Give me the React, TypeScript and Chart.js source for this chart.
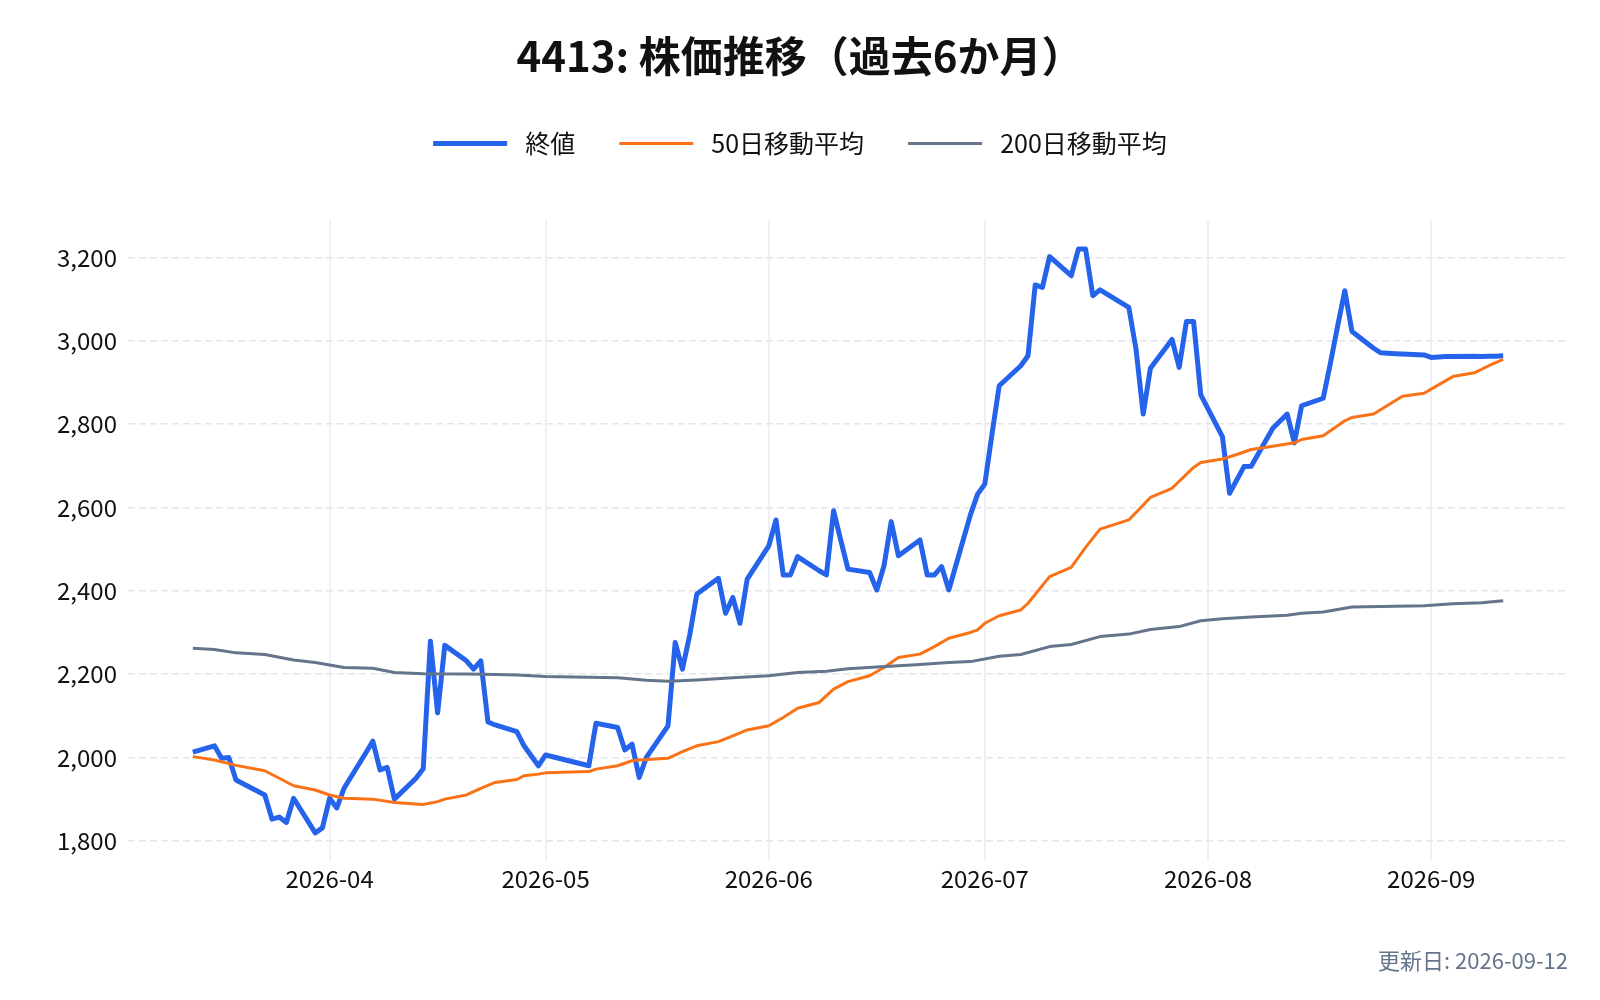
import { useEffect, useRef } from "react"
import Chart from "chart.js/auto"

const chartTitle = "4413: 株価推移（過去6か月）"
const updatedLabel = "更新日: 2026-09-12"
const seriesNames = ["終値", "50日移動平均", "200日移動平均"]

// closing price, one entry per trading day
const closeDates = [
  "2026-03-13", "2026-03-16", "2026-03-17", "2026-03-18", "2026-03-19", "2026-03-23",
  "2026-03-24", "2026-03-25", "2026-03-26", "2026-03-27", "2026-03-30", "2026-03-31",
  "2026-04-01", "2026-04-02", "2026-04-03", "2026-04-06", "2026-04-07", "2026-04-08",
  "2026-04-09", "2026-04-10", "2026-04-13", "2026-04-14", "2026-04-15", "2026-04-16",
  "2026-04-17", "2026-04-20", "2026-04-21", "2026-04-22", "2026-04-23", "2026-04-24",
  "2026-04-27", "2026-04-28", "2026-04-30", "2026-05-01", "2026-05-07", "2026-05-08",
  "2026-05-11", "2026-05-12", "2026-05-13", "2026-05-14", "2026-05-15", "2026-05-18",
  "2026-05-19", "2026-05-20", "2026-05-21", "2026-05-22", "2026-05-25", "2026-05-26",
  "2026-05-27", "2026-05-28", "2026-05-29", "2026-06-01", "2026-06-02", "2026-06-03",
  "2026-06-04", "2026-06-05", "2026-06-08", "2026-06-09", "2026-06-10", "2026-06-11",
  "2026-06-12", "2026-06-15", "2026-06-16", "2026-06-17", "2026-06-18", "2026-06-19",
  "2026-06-22", "2026-06-23", "2026-06-24", "2026-06-25", "2026-06-26", "2026-06-29",
  "2026-06-30", "2026-07-01", "2026-07-02", "2026-07-03", "2026-07-06", "2026-07-07",
  "2026-07-08", "2026-07-09", "2026-07-10", "2026-07-13", "2026-07-14", "2026-07-15",
  "2026-07-16", "2026-07-17", "2026-07-21", "2026-07-22", "2026-07-23", "2026-07-24",
  "2026-07-27", "2026-07-28", "2026-07-29", "2026-07-30", "2026-07-31", "2026-08-03",
  "2026-08-04", "2026-08-05", "2026-08-06", "2026-08-07", "2026-08-10", "2026-08-12",
  "2026-08-13", "2026-08-14", "2026-08-17", "2026-08-18", "2026-08-19", "2026-08-20",
  "2026-08-21", "2026-08-24", "2026-08-25", "2026-08-26", "2026-08-27", "2026-08-28",
  "2026-08-31", "2026-09-01", "2026-09-02", "2026-09-03", "2026-09-04", "2026-09-07",
  "2026-09-08", "2026-09-09", "2026-09-10", "2026-09-11",
]
const closeValues = [
  2013, 2028, 1998, 2000, 1946, 1910,
  1852, 1857, 1844, 1902, 1819, 1831,
  1902, 1879, 1926, 2010, 2039, 1970,
  1976, 1900, 1950, 1973, 2279, 2107,
  2269, 2232, 2212, 2232, 2085, 2078,
  2062, 2028, 1980, 2006, 1980, 2082,
  2072, 2018, 2032, 1952, 2000, 2076,
  2276, 2212, 2292, 2392, 2430, 2346,
  2384, 2322, 2428, 2508, 2570, 2438,
  2438, 2482, 2448, 2438, 2592, 2521,
  2452, 2444, 2402, 2460, 2566, 2484,
  2522, 2438, 2438, 2458, 2402, 2582,
  2632, 2656, 2776, 2892, 2940, 2964,
  3134, 3128, 3202, 3156, 3220, 3220,
  3108, 3122, 3080, 2980, 2824, 2934,
  3003, 2936, 3046, 3046, 2870, 2770,
  2634, 2666, 2698, 2699, 2790, 2824,
  2755, 2844, 2862, 2946, 3035, 3120,
  3022, 2982, 2971, 2970, 2969, 2968,
  2966, 2960, 2961, 2962, 2962, 2963,
  2962, 2963, 2963, 2964,
]

const ma50Dates = [
  "2026-03-13", "2026-03-16", "2026-03-19", "2026-03-23", "2026-03-27", "2026-03-30",
  "2026-04-01", "2026-04-03", "2026-04-07", "2026-04-10", "2026-04-14", "2026-04-16",
  "2026-04-17", "2026-04-20", "2026-04-22", "2026-04-24", "2026-04-27", "2026-04-28",
  "2026-04-30", "2026-05-01", "2026-05-07", "2026-05-08", "2026-05-11", "2026-05-13",
  "2026-05-14", "2026-05-18", "2026-05-20", "2026-05-22", "2026-05-25", "2026-05-27",
  "2026-05-29", "2026-06-01", "2026-06-03", "2026-06-05", "2026-06-08", "2026-06-10",
  "2026-06-12", "2026-06-15", "2026-06-17", "2026-06-19", "2026-06-22", "2026-06-24",
  "2026-06-26", "2026-06-29", "2026-06-30", "2026-07-01", "2026-07-03", "2026-07-06",
  "2026-07-07", "2026-07-10", "2026-07-13", "2026-07-15", "2026-07-17", "2026-07-21",
  "2026-07-24", "2026-07-27", "2026-07-30", "2026-07-31", "2026-08-03", "2026-08-05",
  "2026-08-07", "2026-08-10", "2026-08-13", "2026-08-14", "2026-08-17", "2026-08-20",
  "2026-08-21", "2026-08-24", "2026-08-28", "2026-08-31", "2026-09-04", "2026-09-07",
  "2026-09-09", "2026-09-11",
]
const ma50Values = [
  2002, 1994, 1981, 1968, 1932, 1922,
  1910, 1902, 1900, 1892, 1887, 1894,
  1900, 1910, 1926, 1940, 1947, 1956,
  1960, 1963, 1966, 1972, 1980, 1992,
  1994, 1998, 2014, 2028, 2038, 2052,
  2066, 2076, 2096, 2118, 2132, 2164,
  2182, 2196, 2216, 2240, 2248, 2266,
  2286, 2300, 2306, 2322, 2340, 2354,
  2370, 2434, 2456, 2504, 2548, 2570,
  2624, 2646, 2696, 2708, 2716, 2727,
  2739, 2747, 2755, 2763, 2772, 2808,
  2816, 2824, 2867, 2874, 2914, 2923,
  2940, 2955,
]

const ma200Dates = [
  "2026-03-13", "2026-03-16", "2026-03-19", "2026-03-23", "2026-03-27", "2026-03-30",
  "2026-04-03", "2026-04-07", "2026-04-10", "2026-04-14", "2026-04-20", "2026-04-24",
  "2026-04-27", "2026-05-01", "2026-05-11", "2026-05-15", "2026-05-18", "2026-05-22",
  "2026-05-27", "2026-06-01", "2026-06-05", "2026-06-09", "2026-06-12", "2026-06-16",
  "2026-06-22", "2026-06-26", "2026-06-29", "2026-07-03", "2026-07-06", "2026-07-10",
  "2026-07-13", "2026-07-17", "2026-07-21", "2026-07-24", "2026-07-28", "2026-07-31",
  "2026-08-03", "2026-08-07", "2026-08-12", "2026-08-14", "2026-08-17", "2026-08-21",
  "2026-08-25", "2026-08-31", "2026-09-04", "2026-09-08", "2026-09-11",
]
const ma200Values = [
  2262, 2259, 2251, 2247, 2234, 2228,
  2216, 2214, 2204, 2201, 2200, 2199,
  2198, 2194, 2191, 2185, 2183, 2186,
  2191, 2196, 2204, 2207, 2213, 2217,
  2223, 2228, 2230, 2243, 2247, 2266,
  2271, 2290, 2296, 2307, 2314, 2328,
  2333, 2337, 2341, 2346, 2349, 2361,
  2362, 2364, 2369, 2371, 2376,
]

const monthTicks = ["2026-04-01", "2026-05-01", "2026-06-01", "2026-07-01", "2026-08-01", "2026-09-01"]
const yTicks = [1800, 2000, 2200, 2400, 2600, 2800, 3000, 3200]

const fontFamily = "'Noto Sans CJK JP', 'Noto Sans', sans-serif"
const DAY = 86400000

const toDay = (s: string) => Date.parse(s + "T00:00:00Z") / DAY
const toPoints = (dates: string[], values: number[]) =>
  dates.map((d, i) => ({ x: toDay(d), y: values[i] }))

// extra room between the legend and the plot
const legendGap = {
  id: "legendGap",
  beforeInit(chart: any) {
    const fit = chart.legend.fit
    chart.legend.fit = function () {
      fit.bind(chart.legend)()
      this.height += 54
    }
  },
}

function StockChart() {
  const chartRef = useRef<HTMLCanvasElement | null>(null)
  const chartInstance = useRef<Chart | null>(null)

  useEffect(() => {
    if (!chartRef.current) return
    if (chartInstance.current) chartInstance.current.destroy()

    const first = toDay(closeDates[0])
    const last = toDay(closeDates[closeDates.length - 1])

    chartInstance.current = new Chart(chartRef.current, {
      type: "line",
      data: {
        datasets: [
          {
            label: seriesNames[0],
            data: toPoints(closeDates, closeValues),
            borderColor: "#2563EB",
            borderWidth: 5,
            order: 2,
          },
          {
            label: seriesNames[1],
            data: toPoints(ma50Dates, ma50Values),
            borderColor: "#F97316",
            borderWidth: 3,
            order: 1,
          },
          {
            label: seriesNames[2],
            data: toPoints(ma200Dates, ma200Values),
            borderColor: "#64748B",
            borderWidth: 3,
            order: 0,
          },
        ],
      },
      options: {
        responsive: true,
        maintainAspectRatio: false,
        animation: false,
        datasets: {
          line: {
            pointRadius: 0,
            pointHoverRadius: 0,
            tension: 0,
            fill: false,
            borderJoinStyle: "round",
            backgroundColor: "transparent",
          },
        },
        layout: { padding: { top: 0, left: 32, right: 32, bottom: 26 } },
        plugins: {
          title: {
            display: true,
            text: chartTitle,
            color: "#111111",
            font: { family: fontFamily, size: 42, weight: "bold" },
            padding: { top: 31, bottom: 5.5 },
          },
          subtitle: {
            display: true,
            text: updatedLabel,
            position: "bottom",
            align: "end",
            color: "#64748B",
            font: { family: fontFamily, size: 22 },
            padding: { top: 50, bottom: 0 },
          },
          legend: {
            position: "top",
            labels: {
              color: "#111111",
              font: { family: fontFamily, size: 25 },
              usePointStyle: true,
              pointStyle: "line",
              pointStyleWidth: 74,
              padding: 44,
              sort: (a: any, b: any) => a.datasetIndex - b.datasetIndex,
              generateLabels: (chart: any) =>
                Chart.defaults.plugins.legend.labels
                  .generateLabels(chart)
                  .map((item: any) => ({ ...item, text: " " + item.text })),
            },
          },
          tooltip: { enabled: false },
        },
        scales: {
          x: {
            type: "linear",
            min: first - 9,
            max: last + 9,
            afterBuildTicks: (axis: any) => {
              axis.ticks = monthTicks.map((d) => ({ value: toDay(d) }))
            },
            ticks: {
              autoSkip: false,
              maxRotation: 0,
              padding: 4,
              color: "#111111",
              font: { family: fontFamily, size: 24 },
              callback: (v: any) => new Date(Number(v) * DAY).toISOString().slice(0, 7),
            },
            grid: { color: "#EDF0F5", lineWidth: 2, drawTicks: false },
            border: { display: false },
          },
          y: {
            min: 1752,
            max: 3290,
            afterBuildTicks: (axis: any) => {
              axis.ticks = yTicks.map((v) => ({ value: v }))
            },
            afterFit: (axis: any) => {
              axis.width = 96
            },
            ticks: {
              padding: 11,
              color: "#111111",
              font: { family: fontFamily, size: 24 },
              callback: (v: any) => Number(v).toLocaleString("en-US"),
            },
            grid: { color: "#E3E5EA", lineWidth: 1.5, drawTicks: false },
            border: { display: false, dash: [7, 4] },
          },
        },
      },
      plugins: [legendGap],
    })

    return () => {
      if (chartInstance.current) {
        chartInstance.current.destroy()
        chartInstance.current = null
      }
    }
  }, [])

  return <canvas ref={chartRef} />
}

export default function App() {
  return (
    <div
      style={{
        position: "absolute",
        left: 0,
        top: 0,
        width: 1600,
        height: 1000,
        background: "#ffffff",
      }}
    >
      <StockChart />
    </div>
  )
}
